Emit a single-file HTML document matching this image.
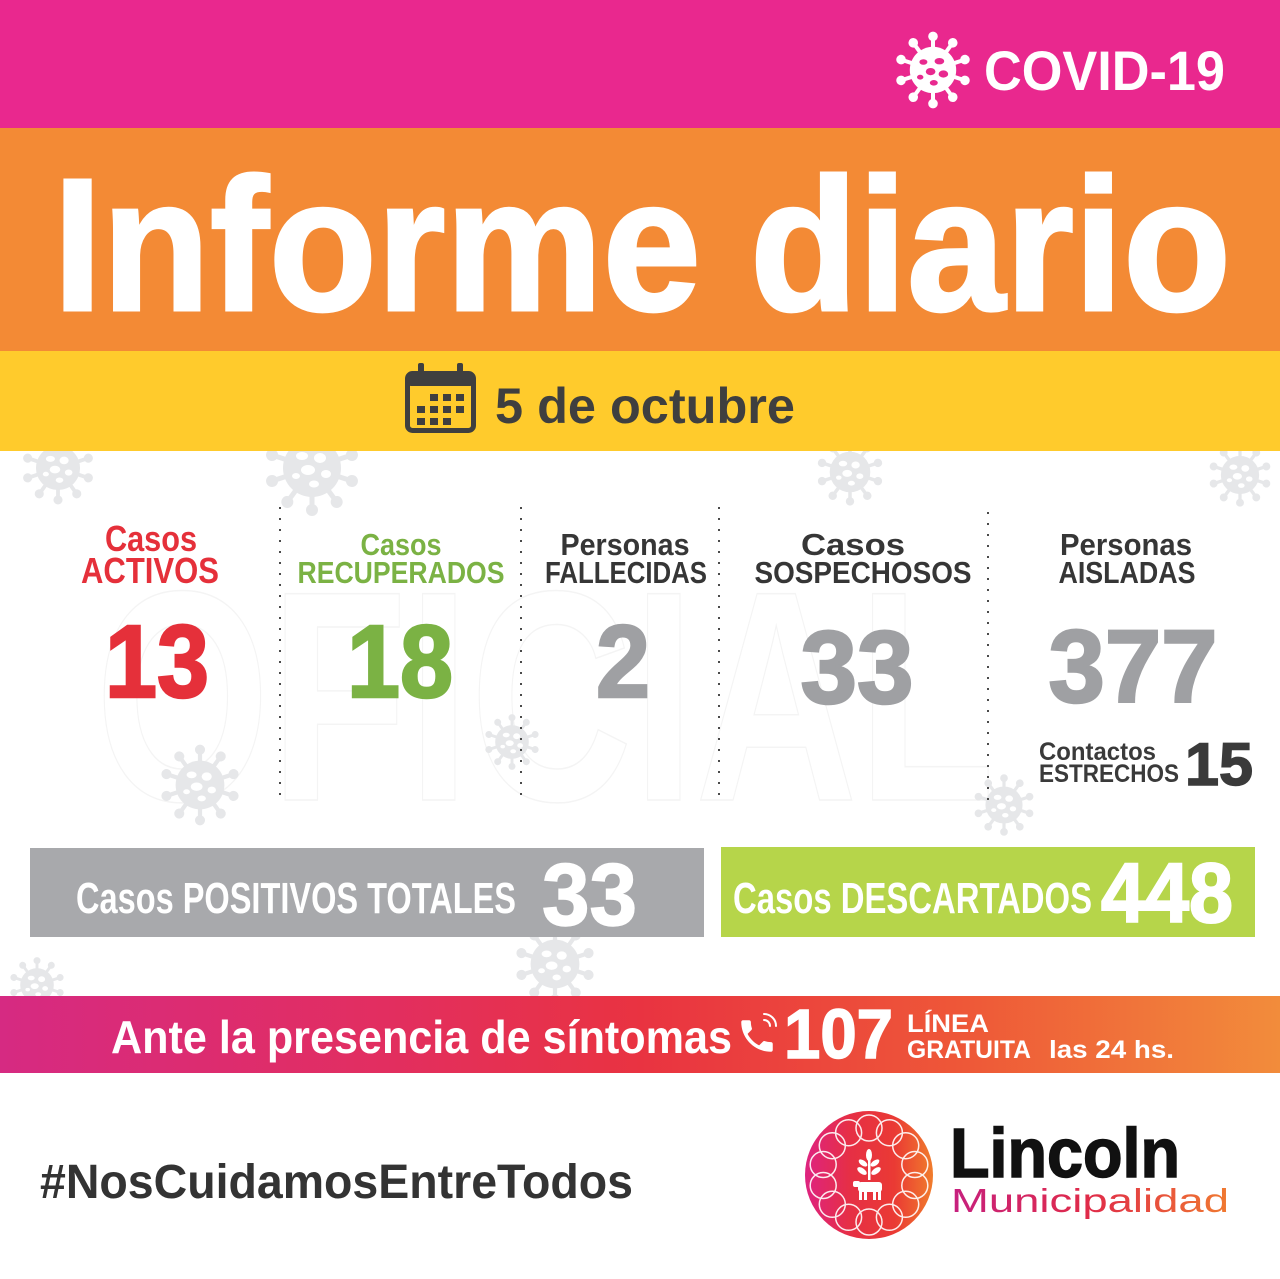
<!DOCTYPE html>
<html>
<head>
<meta charset="utf-8">
<style>
  html,body{margin:0;padding:0;background:#fff;}
  svg{display:block;}
  text{font-family:"Liberation Sans", Arial, sans-serif;}
</style>
</head>
<body>
<svg width="1280" height="1279" viewBox="0 0 1280 1279" xmlns="http://www.w3.org/2000/svg">
  <defs>
    <linearGradient id="bar" x1="0" y1="0" x2="1" y2="0">
      <stop offset="0" stop-color="#D62A82"/>
      <stop offset="0.3" stop-color="#E22E60"/>
      <stop offset="0.5" stop-color="#E93341"/>
      <stop offset="0.75" stop-color="#EE5738"/>
      <stop offset="1" stop-color="#F28C3B"/>
    </linearGradient>
    <linearGradient id="logo" x1="0" y1="0" x2="1" y2="0">
      <stop offset="0" stop-color="#DE2380"/>
      <stop offset="0.35" stop-color="#E62F45"/>
      <stop offset="0.7" stop-color="#EA3A34"/>
      <stop offset="1" stop-color="#F07C2C"/>
    </linearGradient>
    <linearGradient id="muni" x1="0" y1="0" x2="1" y2="0">
      <stop offset="0" stop-color="#C6207F"/>
      <stop offset="0.5" stop-color="#E02B48"/>
      <stop offset="1" stop-color="#F07A30"/>
    </linearGradient>
    <g id="spk">
      <line x1="0" y1="-26" x2="0" y2="-40" stroke-width="5"/>
      <circle cx="0" cy="-42" r="5.5"/>
    </g>
    <symbol id="vir" viewBox="-50 -50 100 100">
      <g fill="#E6E7E9" stroke="#E6E7E9">
        <use href="#spk"/>
        <use href="#spk" transform="rotate(36)"/>
        <use href="#spk" transform="rotate(72)"/>
        <use href="#spk" transform="rotate(108)"/>
        <use href="#spk" transform="rotate(144)"/>
        <use href="#spk" transform="rotate(180)"/>
        <use href="#spk" transform="rotate(216)"/>
        <use href="#spk" transform="rotate(252)"/>
        <use href="#spk" transform="rotate(288)"/>
        <use href="#spk" transform="rotate(324)"/>
      </g>
      <circle r="29" fill="#E6E7E9"/>
      <g fill="#fff">
        <ellipse cx="-10" cy="-12" rx="6" ry="4"/>
        <ellipse cx="8" cy="-10" rx="6" ry="5"/>
        <ellipse cx="-4" cy="2" rx="7" ry="5"/>
        <ellipse cx="14" cy="6" rx="5" ry="4"/>
        <ellipse cx="-16" cy="8" rx="4" ry="3"/>
        <ellipse cx="2" cy="16" rx="5" ry="3.5"/>
      </g>
    </symbol>
    <symbol id="virw" viewBox="-50 -50 100 100">
      <g fill="#fff" stroke="#fff">
        <use href="#spk"/>
        <use href="#spk" transform="rotate(36)"/>
        <use href="#spk" transform="rotate(72)"/>
        <use href="#spk" transform="rotate(108)"/>
        <use href="#spk" transform="rotate(144)"/>
        <use href="#spk" transform="rotate(180)"/>
        <use href="#spk" transform="rotate(216)"/>
        <use href="#spk" transform="rotate(252)"/>
        <use href="#spk" transform="rotate(288)"/>
        <use href="#spk" transform="rotate(324)"/>
      </g>
      <circle r="29" fill="#fff"/>
      <g fill="#E8298F">
        <ellipse cx="-12" cy="-10" rx="5" ry="3.5"/>
        <ellipse cx="8" cy="-11" rx="6" ry="4"/>
        <ellipse cx="-3" cy="2" rx="6" ry="4.5"/>
        <ellipse cx="13" cy="5" rx="6" ry="4.5"/>
        <ellipse cx="-16" cy="9" rx="4" ry="3"/>
        <ellipse cx="1" cy="16" rx="5" ry="3.5"/>
      </g>
    </symbol>
  </defs>

  <!-- background -->
  <rect x="0" y="0" width="1280" height="1279" fill="#ffffff"/>

  <!-- faint watermark -->
  <text x="95" y="800" font-size="300" font-weight="bold" fill="none" stroke="#F4F4F4" stroke-width="1.5" textLength="900" lengthAdjust="spacingAndGlyphs">OFICIAL</text>

  <!-- background viruses -->
  <use href="#vir" x="20" y="430" width="76" height="76"/>
  <use href="#vir" x="262" y="418" width="100" height="100"/>
  <use href="#vir" x="815" y="437" width="70" height="70"/>
  <use href="#vir" x="1207" y="442" width="66" height="66"/>
  <use href="#vir" x="483" y="713" width="58" height="58"/>
  <use href="#vir" x="158" y="743" width="84" height="84"/>
  <use href="#vir" x="972" y="773" width="64" height="64"/>
  <use href="#vir" x="513" y="922" width="84" height="84"/>
  <use href="#vir" x="8" y="956" width="58" height="58"/>

  <!-- top bands -->
  <rect x="0" y="0" width="1280" height="128" fill="#E9288E"/>
  <rect x="0" y="128" width="1280" height="223" fill="#F38A35"/>
  <rect x="0" y="351" width="1280" height="100" fill="#FFCB2C"/>

  <!-- COVID-19 header -->
  <use href="#virw" x="893" y="30" width="80" height="80"/>
  <text x="984" y="90" font-size="56" font-weight="bold" fill="#fff" textLength="241" lengthAdjust="spacingAndGlyphs">COVID-19</text>

  <!-- Informe diario -->
  <text x="53" y="310" font-size="189" font-weight="bold" fill="#fff" stroke="#fff" stroke-width="3" textLength="1178" lengthAdjust="spacingAndGlyphs">Informe diario</text>

  <!-- calendar -->
  <g fill="#3F3F3F">
    <rect x="407.5" y="373.5" width="66" height="57" rx="5" fill="none" stroke="#3F3F3F" stroke-width="5"/>
    <rect x="407" y="373" width="67" height="13" rx="4"/>
    <rect x="418" y="363" width="6" height="17" rx="2"/>
    <rect x="457" y="363" width="6" height="17" rx="2"/>
    <rect x="430" y="394" width="8" height="7"/>
    <rect x="443" y="394" width="8" height="7"/>
    <rect x="456" y="394" width="8" height="7"/>
    <rect x="417" y="406" width="8" height="7"/>
    <rect x="430" y="406" width="8" height="7"/>
    <rect x="443" y="406" width="8" height="7"/>
    <rect x="456" y="406" width="8" height="7"/>
    <rect x="417" y="418" width="8" height="7"/>
    <rect x="430" y="418" width="8" height="7"/>
    <rect x="443" y="418" width="8" height="7"/>
  </g>
  <text x="495" y="423" font-size="50" font-weight="bold" fill="#3F3F3F" textLength="300" lengthAdjust="spacingAndGlyphs">5 de octubre</text>

  <!-- dotted separators -->
  <g stroke="#4A4A4A" stroke-width="2" stroke-dasharray="2 9">
    <line x1="280" y1="507" x2="280" y2="800"/>
    <line x1="521" y1="507" x2="521" y2="800"/>
    <line x1="719" y1="507" x2="719" y2="800"/>
    <line x1="988" y1="512" x2="988" y2="800"/>
  </g>

  <!-- headings -->
  <g font-weight="bold" text-anchor="middle">
    <text x="151" y="551" font-size="36" fill="#E5303A" textLength="92" lengthAdjust="spacingAndGlyphs">Casos</text>
    <text x="150" y="583" font-size="36" fill="#E5303A" textLength="138" lengthAdjust="spacingAndGlyphs">ACTIVOS</text>

    <text x="401" y="555" font-size="31" fill="#7BB244" textLength="81" lengthAdjust="spacingAndGlyphs">Casos</text>
    <text x="401" y="583" font-size="31" fill="#7BB244" textLength="207" lengthAdjust="spacingAndGlyphs">RECUPERADOS</text>

    <text x="625" y="555" font-size="31" fill="#363636" textLength="129" lengthAdjust="spacingAndGlyphs">Personas</text>
    <text x="626" y="583" font-size="31" fill="#363636" textLength="162" lengthAdjust="spacingAndGlyphs">FALLECIDAS</text>

    <text x="853" y="555" font-size="31" fill="#363636" textLength="104" lengthAdjust="spacingAndGlyphs">Casos</text>
    <text x="863" y="583" font-size="31" fill="#363636" textLength="217" lengthAdjust="spacingAndGlyphs">SOSPECHOSOS</text>

    <text x="1126" y="555" font-size="31" fill="#363636" textLength="132" lengthAdjust="spacingAndGlyphs">Personas</text>
    <text x="1127" y="583" font-size="31" fill="#363636" textLength="137" lengthAdjust="spacingAndGlyphs">AISLADAS</text>
  </g>

  <!-- numbers -->
  <g font-weight="bold" text-anchor="middle" font-size="103" stroke-width="2.5">
    <text x="157" y="697" fill="#E5303A" stroke="#E5303A" textLength="104" lengthAdjust="spacingAndGlyphs">13</text>
    <text x="400" y="697" fill="#7BB244" stroke="#7BB244" textLength="106" lengthAdjust="spacingAndGlyphs">18</text>
    <text x="623" y="697" fill="#9FA0A3" stroke="#9FA0A3" textLength="54" lengthAdjust="spacingAndGlyphs">2</text>
    <text x="857" y="703" fill="#9FA0A3" stroke="#9FA0A3" textLength="113" lengthAdjust="spacingAndGlyphs">33</text>
    <text x="1133" y="702" fill="#9FA0A3" stroke="#9FA0A3" textLength="169" lengthAdjust="spacingAndGlyphs">377</text>
  </g>

  <!-- contactos estrechos -->
  <text x="1039" y="760" font-size="25" font-weight="bold" fill="#3A3A3A" textLength="117" lengthAdjust="spacingAndGlyphs">Contactos</text>
  <text x="1039" y="782" font-size="25" font-weight="bold" fill="#3A3A3A" textLength="140" lengthAdjust="spacingAndGlyphs">ESTRECHOS</text>
  <text x="1185" y="785" font-size="60" font-weight="bold" fill="#3A3A3A" stroke="#3A3A3A" stroke-width="1.5" textLength="68" lengthAdjust="spacingAndGlyphs">15</text>

  <!-- boxes -->
  <rect x="30" y="848" width="674" height="89" fill="#A8A9AC"/>
  <rect x="721" y="847" width="534" height="90" fill="#B6D54A"/>
  <text x="76" y="913" font-size="44" font-weight="bold" fill="#fff" textLength="440" lengthAdjust="spacingAndGlyphs">Casos POSITIVOS TOTALES</text>
  <text x="542" y="925" font-size="88" font-weight="bold" fill="#fff" stroke="#fff" stroke-width="1.5" textLength="95" lengthAdjust="spacingAndGlyphs">33</text>
  <text x="733" y="913" font-size="44" font-weight="bold" fill="#fff" textLength="359" lengthAdjust="spacingAndGlyphs">Casos DESCARTADOS</text>
  <text x="1101" y="922" font-size="84" font-weight="bold" fill="#fff" stroke="#fff" stroke-width="2" textLength="132" lengthAdjust="spacingAndGlyphs">448</text>

  <!-- gradient bar -->
  <rect x="0" y="996" width="1280" height="77" fill="url(#bar)"/>
  <text x="111" y="1053" font-size="46" font-weight="bold" fill="#fff" textLength="621" lengthAdjust="spacingAndGlyphs">Ante la presencia de síntomas</text>
  <!-- phone icon -->
  <g transform="translate(736,1015) scale(1.75)">
    <path fill="#fff" d="M6.62 10.79c1.44 2.83 3.76 5.14 6.59 6.59l2.2-2.2c.27-.27.67-.36 1.02-.24 1.12.37 2.33.57 3.57.57.55 0 1 .45 1 1V20c0 .55-.45 1-1 1-9.39 0-17-7.610-17-17 0-.55.45-1 1-1h3.5c.55 0 1 .45 1 1 0 1.25.2 2.45.57 3.57.11.35.03.74-.25 1.02l-2.2 2.2z"/>
  </g>
  <g fill="none" stroke="#fff" stroke-width="2" stroke-linecap="round">
    <path d="M764 1020 a6 6 0 0 1 6 6"/>
    <path d="M764 1014 a12 12 0 0 1 12 12"/>
  </g>
  <text x="784" y="1058" font-size="70" font-weight="bold" fill="#fff" stroke="#fff" stroke-width="1.5" textLength="109" lengthAdjust="spacingAndGlyphs">107</text>
  <text x="907" y="1032" font-size="25" font-weight="bold" fill="#fff" textLength="82" lengthAdjust="spacingAndGlyphs">LÍNEA</text>
  <text x="907" y="1058" font-size="25" font-weight="bold" fill="#fff" textLength="124" lengthAdjust="spacingAndGlyphs">GRATUITA</text>
  <text x="1049" y="1058" font-size="25" font-weight="bold" fill="#fff" textLength="125" lengthAdjust="spacingAndGlyphs">las 24 hs.</text>

  <!-- hashtag -->
  <text x="40" y="1198" font-size="48" font-weight="bold" fill="#333333" textLength="593" lengthAdjust="spacingAndGlyphs">#NosCuidamosEntreTodos</text>

  <!-- logo -->
  <circle cx="869" cy="1175" r="64" fill="url(#logo)"/>
  <g fill="none" stroke="#fff" stroke-width="1.5" opacity="0.9">
    <circle cx="869" cy="1128" r="13"/>
    <circle cx="889.4" cy="1132.7" r="13"/>
    <circle cx="905.7" cy="1145.7" r="13"/>
    <circle cx="914.8" cy="1164.5" r="13"/>
    <circle cx="914.8" cy="1185.5" r="13"/>
    <circle cx="905.7" cy="1204.3" r="13"/>
    <circle cx="889.4" cy="1217.3" r="13"/>
    <circle cx="869" cy="1222" r="13"/>
    <circle cx="848.6" cy="1217.3" r="13"/>
    <circle cx="832.3" cy="1204.3" r="13"/>
    <circle cx="823.2" cy="1185.5" r="13"/>
    <circle cx="823.2" cy="1164.5" r="13"/>
    <circle cx="832.3" cy="1145.7" r="13"/>
    <circle cx="848.6" cy="1132.7" r="13"/>
  </g>
  <!-- wheat -->
  <g fill="#fff">
    <rect x="868" y="1152" width="2.5" height="28"/>
    <ellipse cx="869" cy="1155" rx="3" ry="6"/>
    <ellipse cx="863" cy="1163" rx="5" ry="2.6" transform="rotate(35 863 1163)"/>
    <ellipse cx="875" cy="1163" rx="5" ry="2.6" transform="rotate(-35 875 1163)"/>
    <ellipse cx="862" cy="1171" rx="5.5" ry="2.8" transform="rotate(35 862 1171)"/>
    <ellipse cx="876" cy="1171" rx="5.5" ry="2.8" transform="rotate(-35 876 1171)"/>
    <!-- cow -->
    <rect x="858" y="1182" width="24" height="10" rx="3"/>
    <rect x="853" y="1181" width="7" height="6" rx="2"/>
    <rect x="859" y="1190" width="3" height="10"/>
    <rect x="864" y="1190" width="3" height="10"/>
    <rect x="873" y="1190" width="3" height="10"/>
    <rect x="878" y="1190" width="3" height="10"/>
  </g>
  <text x="950" y="1177" font-size="70" font-weight="bold" fill="#111111" stroke="#111111" stroke-width="1.5" textLength="230" lengthAdjust="spacingAndGlyphs">Lincoln</text>
  <text x="951" y="1212" font-size="33" fill="url(#muni)" textLength="278" lengthAdjust="spacingAndGlyphs">Municipalidad</text>
</svg>
</body>
</html>
